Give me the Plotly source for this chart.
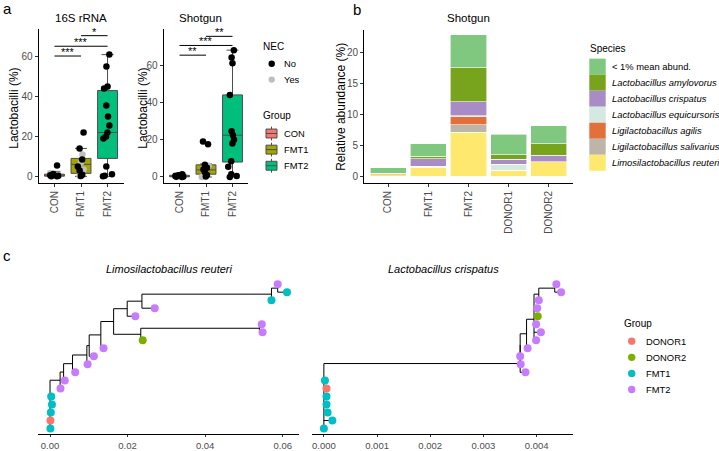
import plotly.graph_objects as go

W, H = 719, 451
FONT = "Liberation Sans, Arial, sans-serif"

# ---------------- panel a: Lactobacilli (%) boxplots ----------------
groups_a = ["CON", "FMT1", "FMT2"]
group_colors = ["#F8766D", "#A3A500", "#00BF7D"]
nec_levels = ["No", "Yes"]
nec_colors = ["black", "#BEBEBE"]

# 16S rRNA box statistics (lower whisker, Q1, median, Q3, upper whisker)
rrna_low = [0.0, 0.0, 0.0]
rrna_q1 = [0.1, 1.5, 9.0]
rrna_med = [0.4, 6.0, 22.0]
rrna_q3 = [1.1, 9.0, 43.0]
rrna_high = [2.5, 14.0, 61.0]
# 16S rRNA samples split by NEC status
rrna_no_x = ["CON"] * 6 + ["FMT1"] * 7 + ["FMT2"] * 14
rrna_no_y = [5.5, 1.2, 0.6, 0.3, 0.1, 0.0,
             22, 14, 8.5, 5, 3, 0.8, 0.2,
             61, 55, 45, 44, 35.5, 30, 25.5, 22, 20, 19, 5, 1, 0.3, 0]
rrna_yes_x = ["CON"] * 4 + ["FMT1"] * 4
rrna_yes_y = [1.5, 0.8, 0.3, 0.0, 11, 6.8, 3.5, 0.0]
rrna_sig_pairs = [("CON", "FMT1"), ("CON", "FMT2"), ("FMT1", "FMT2")]
rrna_sig_y = [60.3, 65.2, 70.5]
rrna_sig_txt = ["***", "***", "*"]

# Shotgun box statistics
shot_low = [0.0, 0.0, 0.0]
shot_q1 = [0.1, 1.5, 8.0]
shot_med = [0.4, 3.8, 22.4]
shot_q3 = [0.9, 6.5, 44.0]
shot_high = [2.0, 7.0, 68.0]
shot_no_x = ["CON"] * 6 + ["FMT1"] * 8 + ["FMT2"] * 13
shot_no_y = [1.5, 0.9, 0.5, 0.3, 0.1, 0.0,
             19, 17.5, 6.5, 5, 4, 2.5, 1, 0.2,
             68, 64, 61, 44, 24.5, 22.5, 20, 18, 8.5, 5.5, 1.5, 0.5, 0]
shot_yes_x = ["CON"] * 3 + ["FMT1"] * 3
shot_yes_y = [1.0, 0.4, 0.0, 6, 2.5, 0.0]
shot_sig_pairs = [("CON", "FMT1"), ("CON", "FMT2"), ("FMT1", "FMT2")]
shot_sig_y = [65.3, 70.5, 75.4]
shot_sig_txt = ["**", "***", "**"]

# ---------------- panel b: species relative abundance ----------------
samples_b = ["CON", "FMT1", "FMT2", "DONOR1", "DONOR2"]
species = ["Limosilactobacillus reuteri", "Ligilactobacillus salivarius",
           "Ligilactobacillus agilis", "Lactobacillus equicursoris",
           "Lactobacillus crispatus", "Lactobacillus amylovorus", "< 1% mean abund."]
species_colors = ["#FFE86E", "#BDB5AA", "#E2703A", "#D4E9DF",
                  "#A98BC6", "#78A31C", "#80C880"]
abund = [
    [0.25, 1.45, 7.1, 0.95, 2.3],
    [0.0, 0.1, 1.2, 0.0, 0.05],
    [0.15, 0.05, 1.4, 0.0, 0.0],
    [0.0, 0.0, 0.05, 0.95, 0.0],
    [0.02, 1.2, 2.3, 0.8, 1.0],
    [0.02, 0.4, 5.5, 0.8, 1.9],
    [0.9, 2.05, 5.3, 3.25, 2.9],
]

# ---------------- panel c: strain trees ----------------
tree_groups = ["DONOR1", "DONOR2", "FMT1", "FMT2"]
tree_colors = ["#F8766D", "#7CAE00", "#00BFC4", "#C77CFF"]

# L. reuteri: tips listed top to bottom, internal nodes children-before-parent
reu_tip_group = ["FMT2", "FMT1", "FMT1", "FMT2", "FMT2", "FMT2", "FMT2", "DONOR2",
                 "FMT2", "FMT2", "FMT2", "FMT2", "FMT2", "FMT2",
                 "FMT1", "FMT1", "FMT1", "DONOR1", "FMT1"]
reu_tip_dist = [0.0587, 0.0611, 0.0571, 0.0270, 0.0220, 0.0546, 0.0548, 0.0239,
                0.0138, 0.0113, 0.0097, 0.0065, 0.0038, 0.0027,
                0.0003, 0.0005, 0.0002, 0.0001, 0.0001]
reu_nodes = ["n14", "n13", "n12", "n9", "n11", "n10", "n8", "n7", "n6",
             "n5", "n4", "n3", "n2", "root"]
reu_node_dist = [0.0587, 0.0571, 0.0237, 0.0199, 0.0540, 0.0234, 0.0164, 0.0131,
                 0.0101, 0.0095, 0.0058, 0.0035, 0.0026, 0.0]
reu_children = [["t1", "t2"], ["n14", "t3"], ["n13", "t4"], ["n12", "t5"],
                ["t6", "t7"], ["n11", "t8"], ["n9", "n10"], ["n8", "t9"],
                ["n7", "t10"], ["n6", "t11"], ["n5", "t12"], ["n4", "t13"],
                ["n3", "t14"], ["n2", "t15", "t16", "t17", "t18", "t19"]]

# L. crispatus
cri_tip_group = ["FMT2", "FMT2", "FMT2", "FMT2", "DONOR2", "FMT2", "FMT2", "FMT2",
                 "FMT2", "FMT2", "FMT2", "FMT2",
                 "FMT1", "DONOR1", "FMT1", "FMT1", "FMT1", "FMT1", "FMT1"]
cri_tip_dist = [0.00437, 0.00446, 0.00404, 0.00401, 0.00402, 0.00399, 0.00408,
                0.00399, 0.00383, 0.00369, 0.00370, 0.00379,
                0.00002, 0.00005, 0.00005, 0.00005, 0.00007, 0.00016, 0.0]
cri_nodes = ["nE", "nD", "nC", "nB", "nR", "nQ", "nA", "root"]
cri_node_dist = [0.00434, 0.00404, 0.00395, 0.00381, 0.00369, 0.00369, 0.00369, 0.0]
cri_children = [["t1", "t2"], ["nE", "t3"], ["nD", "t4", "t5", "t6", "t7", "t8"],
                ["nC", "t9"], ["nB", "t10"], ["nR", "t11"], ["nQ", "t12"],
                ["nA", "t13", "t14", "t15", "t16", "t17", "t18", "t19"]]


def px(x):
    return x / W


def py(y):
    return 1 - y / H


def tree_layout(tip_dist, nodes, node_dist, children):
    n = len(tip_dist)
    xpos = {f"t{i+1}": d for i, d in enumerate(tip_dist)}
    ypos = {f"t{i+1}": n - i for i in range(n)}
    for name, d, ch in zip(nodes, node_dist, children):
        xpos[name] = d
        ypos[name] = sum(ypos[c] for c in ch) / len(ch)
    xs, ys = [], []
    for name, ch in zip(nodes, children):
        cy = [ypos[c] for c in ch]
        xs += [xpos[name], xpos[name], None]
        ys += [min(cy), max(cy), None]
        for c in ch:
            xs += [xpos[name], xpos[c], None]
            ys += [ypos[c], ypos[c], None]
    tip_y = [ypos[f"t{i+1}"] for i in range(n)]
    return xs, ys, tip_y


fig = go.Figure()

# ---- panel a traces ----
panels_a = [
    ("x", "y", rrna_low, rrna_q1, rrna_med, rrna_q3, rrna_high,
     rrna_no_x, rrna_no_y, rrna_yes_x, rrna_yes_y),
    ("x2", "y2", shot_low, shot_q1, shot_med, shot_q3, shot_high,
     shot_no_x, shot_no_y, shot_yes_x, shot_yes_y),
]
for xa, ya, lo, q1, md, q3, hi, nox, noy, yesx, yesy in panels_a:
    for i, g in enumerate(groups_a):
        fig.add_trace(go.Box(
            x=[g], q1=[q1[i]], median=[md[i]], q3=[q3[i]],
            lowerfence=[lo[i]], upperfence=[hi[i]],
            fillcolor=group_colors[i], line=dict(color="#4D4D4D", width=1),
            width=0.75, whiskerwidth=0.6, boxpoints=False, showlegend=False,
            xaxis=xa, yaxis=ya, hoverinfo="skip",
        ))
    for vx, vy, col in [(yesx, yesy, nec_colors[1]), (nox, noy, nec_colors[0])]:
        fig.add_trace(go.Box(
            x=vx, y=vy, boxpoints="all", jitter=0.5, pointpos=0,
            width=0.75, fillcolor="rgba(0,0,0,0)", line=dict(width=0),
            marker=dict(color=col, size=6.5), showlegend=False,
            xaxis=xa, yaxis=ya, hoverinfo="skip",
        ))

# ---- panel b traces ----
for sp, col, vals in zip(species, species_colors, abund):
    fig.add_trace(go.Bar(
        x=samples_b, y=vals, name=sp,
        marker=dict(color=col, line=dict(color="white", width=0.6)),
        width=0.9, showlegend=False, xaxis="x3", yaxis="y3", hoverinfo="skip",
    ))

# ---- panel c traces ----
trees = [
    ("x4", "y4", reu_tip_dist, reu_nodes, reu_node_dist, reu_children, reu_tip_group),
    ("x5", "y5", cri_tip_dist, cri_nodes, cri_node_dist, cri_children, cri_tip_group),
]
for xa, ya, td, nd, ndd, ch, tg in trees:
    ex, ey, tip_y = tree_layout(td, nd, ndd, ch)
    fig.add_trace(go.Scatter(x=ex, y=ey, mode="lines", line=dict(color="black", width=1),
                             showlegend=False, xaxis=xa, yaxis=ya, hoverinfo="skip"))
    for g, col in zip(tree_groups, tree_colors):
        idx = [i for i, t in enumerate(tg) if t == g]
        fig.add_trace(go.Scatter(
            x=[td[i] for i in idx], y=[tip_y[i] for i in idx], mode="markers",
            marker=dict(color=col, size=8), name=g, showlegend=False,
            xaxis=xa, yaxis=ya, hoverinfo="skip",
        ))

# ---- axes ----
ax = dict(showline=True, linecolor="black", linewidth=1, ticks="outside", ticklen=3,
          tickcolor="#333333", tickwidth=1, showgrid=False, zeroline=False,
          tickfont=dict(size=10, color="#4D4D4D", family=FONT))
tree_ax = dict(ax, ticklen=2, tickfont=dict(size=9.5, color="#4D4D4D", family=FONT))
top_a, bot_a = py(29), py(185)
fig.update_layout(
    xaxis=dict(ax, domain=[px(38.5), px(123.5)], anchor="y", type="category",
               range=[-0.6, 2.6], tickangle=-90, categoryorder="array", categoryarray=groups_a),
    yaxis=dict(ax, domain=[bot_a, top_a], anchor="x", range=[-3.3, 74], tickvals=[0, 20, 40, 60]),
    xaxis2=dict(ax, domain=[px(163.6), px(248.4)], anchor="y2", type="category",
                range=[-0.6, 2.6], tickangle=-90, categoryorder="array", categoryarray=groups_a),
    yaxis2=dict(ax, domain=[bot_a, top_a], anchor="x2", range=[-3.2, 79.5], tickvals=[0, 20, 40, 60]),
    xaxis3=dict(ax, domain=[px(364), px(573)], anchor="y3", type="category",
                range=[-0.6, 4.6], tickangle=-90),
    yaxis3=dict(ax, domain=[bot_a, py(30)], anchor="x3", range=[-1.1, 23.7], tickvals=[0, 5, 10, 15, 20]),
    xaxis4=dict(tree_ax, domain=[px(38), px(299)], anchor="y4", range=[-0.0031, 0.0642],
                tickvals=[0, 0.02, 0.04, 0.06], tickformat=".2f"),
    yaxis4=dict(domain=[py(439), py(281)], anchor="x4", range=[0.3, 19.78], visible=False),
    xaxis5=dict(tree_ax, domain=[px(312), px(573)], anchor="y5", range=[-0.000223, 0.004683],
                tickvals=[0, 0.001, 0.002, 0.003, 0.004], tickformat=".3f"),
    yaxis5=dict(domain=[py(439), py(281)], anchor="x5", range=[0.3, 19.78], visible=False),
)

shapes, annotations = [], []

# ---- significance bars ----
for xa, ya, pairs, ys, txts in [("x", "y", rrna_sig_pairs, rrna_sig_y, rrna_sig_txt),
                                ("x2", "y2", shot_sig_pairs, shot_sig_y, shot_sig_txt)]:
    for (a, b), yv, t in zip(pairs, ys, txts):
        i0, i1 = groups_a.index(a), groups_a.index(b)
        shapes.append(dict(type="line", xref=xa, yref=ya, x0=i0, x1=i1, y0=yv, y1=yv,
                           line=dict(color="black", width=1)))
        annotations.append(dict(xref=xa, yref=ya, x=(i0 + i1) / 2, y=yv, text=t,
                                showarrow=False, yanchor="bottom", yshift=-4,
                                font=dict(size=11, color="black", family=FONT)))


def label(x, y, text, size=12, angle=0, italic=False, anchor="center"):
    txt = f"<i>{text}</i>" if italic else text
    annotations.append(dict(xref="paper", yref="paper", x=px(x), y=py(y), text=txt,
                            showarrow=False, textangle=angle, xanchor=anchor, yanchor="middle",
                            borderpad=0, font=dict(size=size, color="black", family=FONT)))


def key_rect(x0, x1, y0, y1, fill, line="rgba(0,0,0,0)", lw=0):
    shapes.append(dict(type="rect", xref="paper", yref="paper", x0=px(x0), x1=px(x1),
                       y0=py(y1), y1=py(y0), fillcolor=fill, line=dict(color=line, width=lw)))


def key_line(x0, x1, y0, y1, color="#4D4D4D"):
    shapes.append(dict(type="line", xref="paper", yref="paper", x0=px(x0), x1=px(x1),
                       y0=py(y0), y1=py(y1), line=dict(color=color, width=1)))


def key_dot(x, y, r, fill):
    shapes.append(dict(type="circle", xref="paper", yref="paper", x0=px(x - r), x1=px(x + r),
                       y0=py(y + r), y1=py(y - r), fillcolor=fill, line=dict(width=0)))


# ---- titles ----
label(2, 9, "a", size=15, anchor="left")
label(352, 10, "b", size=15, anchor="left")
label(2, 258, "c", size=15, anchor="left")
label(81, 18, "16S rRNA", size=11.5)
label(201, 18, "Shotgun", size=11.5)
label(468.5, 18, "Shotgun", size=11.5)
label(14, 110, "Lactobacilli (%)", size=12, angle=-90)
label(143, 110, "Lactobacilli (%)", size=12, angle=-90)
label(341, 108, "Relative abundance (%)", size=12, angle=-90)
label(169, 272, "Limosilactobacillus reuteri", size=11, italic=True)
label(443, 272, "Lactobacillus crispatus", size=11, italic=True)

# ---- legends (ggplot-style keys) ----
LEG = 9.4
label(262, 47, "NEC", size=10, anchor="left")
for i, (lv, col) in enumerate(zip(nec_levels, nec_colors)):
    yc = 64.5 + 16 * i
    key_dot(271.7, yc, 3.2, col)
    label(283, yc, lv, size=LEG, anchor="left")

label(262, 117, "Group", size=10, anchor="left")
for i, (g, col) in enumerate(zip(groups_a, group_colors)):
    yc = 135 + 16.3 * i
    key_line(271.5, 271.5, yc - 7, yc + 7)
    key_rect(266, 277, yc - 4.5, yc + 4.5, col, "#4D4D4D", 1)
    key_line(266, 277, yc, yc)
    label(283, yc, g, size=LEG, anchor="left")

label(589, 49, "Species", size=10, anchor="left")
for i, (sp, col) in enumerate(zip(species[::-1], species_colors[::-1])):
    y0 = 59.3 + 16.2 * i
    key_rect(589.3, 605.7, y0, y0 + 16.2, col)
    txt = sp.replace("<", "&lt;") if sp.startswith("<") else f"<i>{sp}</i>"
    label(610.5, y0 + 8.1, txt, size=LEG, anchor="left")

label(623, 327, "Group", size=10, anchor="left")
for i, (g, col) in enumerate(zip(tree_groups, tree_colors)):
    yc = 345 + 16.3 * i
    key_dot(631.7, yc, 3.7, col)
    label(644.5, yc, g, size=LEG, anchor="left")

fig.update_layout(
    width=W, height=H, margin=dict(l=0, r=0, t=0, b=0),
    paper_bgcolor="white", plot_bgcolor="white",
    font=dict(family=FONT, size=10, color="black"),
    boxmode="overlay", barmode="stack", showlegend=False,
    shapes=shapes, annotations=annotations,
)

# the page's default 8px body margin would push the figure out of the window
fig.write_html("out.html", config={"displayModeBar": False},
               post_script="document.body.style.margin='0';")
